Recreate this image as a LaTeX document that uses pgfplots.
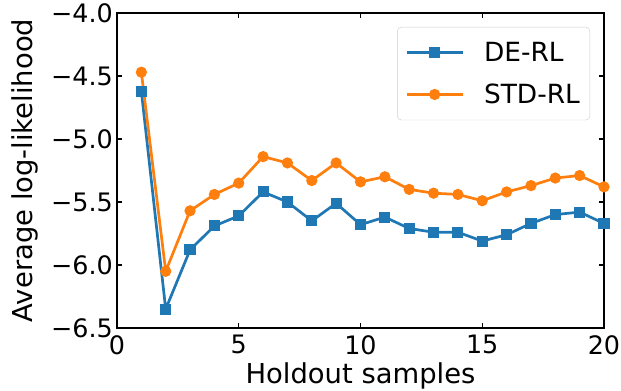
\documentclass[border=0pt]{standalone}
\usepackage{pgfplots}
\pgfplotsset{compat=1.18}
\usepackage{fontspec}
\setmainfont{DejaVu Sans}
\definecolor{tabblue}{HTML}{1F77B4}
\definecolor{taborange}{HTML}{FF7F0E}
\begin{document}
\begin{tikzpicture}
\begin{axis}[
  name=ax,
  scale only axis,
  width=487bp, height=315bp,
  xmin=0, xmax=20, ymin=-6.5, ymax=-4.0,
  xtick={0,5,10,15,20},
  ytick={-6.5,-6,-5.5,-5,-4.5,-4},
  yticklabels={−6.5,−6.0,−5.5,−5.0,−4.5,−4.0},
  tick align=inside,
  tick pos=both,
  major tick length=5bp,
  tick style={black, line width=1.3bp},
  axis line style={black, line width=2bp},
  /pgf/number format/assume math mode=true,
  tick label style={font=\fontsize{25.5}{30}\selectfont, inner sep=0pt},
  yticklabel style={xshift=-4bp},
  xticklabel style={yshift=-7bp},
  label style={font=\fontsize{27.5}{32}\selectfont, inner sep=0pt},
  xlabel={Holdout samples},
  ylabel={Average log-likelihood},
  xlabel style={at={(axis description cs:0.5,-0.1746)}, anchor=base},
  ylabel style={at={(axis description cs:-0.1725,0.5)}, anchor=base},
  legend style={at={(0.9713,0.9556)}, anchor=north east, draw=black!20, rounded corners=4bp,
    font=\fontsize{26.5}{31}\selectfont, row sep=17bp, column sep=18bp, inner xsep=8bp, inner ysep=13bp,
    nodes={inner sep=2bp}},
  legend cell align=left,
  legend image code/.code={
    \draw[line width=2.7bp, mark repeat=2, mark phase=2] plot coordinates {(0bp,0bp) (28bp,0bp) (56bp,0bp)};
  },
]
\addplot[tabblue, line width=2.7bp, mark=square*, mark size=4.2bp, mark options={solid}] coordinates {
(1,-4.62) (2,-6.35) (3,-5.88) (4,-5.69) (5,-5.61) (6,-5.42) (7,-5.50) (8,-5.65) (9,-5.51) (10,-5.68)
(11,-5.62) (12,-5.71) (13,-5.74) (14,-5.74) (15,-5.81) (16,-5.76) (17,-5.67) (18,-5.60) (19,-5.58) (20,-5.67)
};
\addlegendentry{DE-RL}
\addplot[taborange, line width=2.7bp, mark=*, mark size=4.2bp, mark options={solid}] coordinates {
(1,-4.47) (2,-6.05) (3,-5.57) (4,-5.44) (5,-5.35) (6,-5.14) (7,-5.19) (8,-5.33) (9,-5.19) (10,-5.34)
(11,-5.30) (12,-5.40) (13,-5.43) (14,-5.44) (15,-5.49) (16,-5.42) (17,-5.37) (18,-5.31) (19,-5.29) (20,-5.38)
};
\addlegendentry{STD-RL}
\end{axis}
\pgfresetboundingbox
\path ([shift={(-117bp,-63bp)}]ax.south west) rectangle ([shift={(17bp,13bp)}]ax.north east);
\end{tikzpicture}
\end{document}
